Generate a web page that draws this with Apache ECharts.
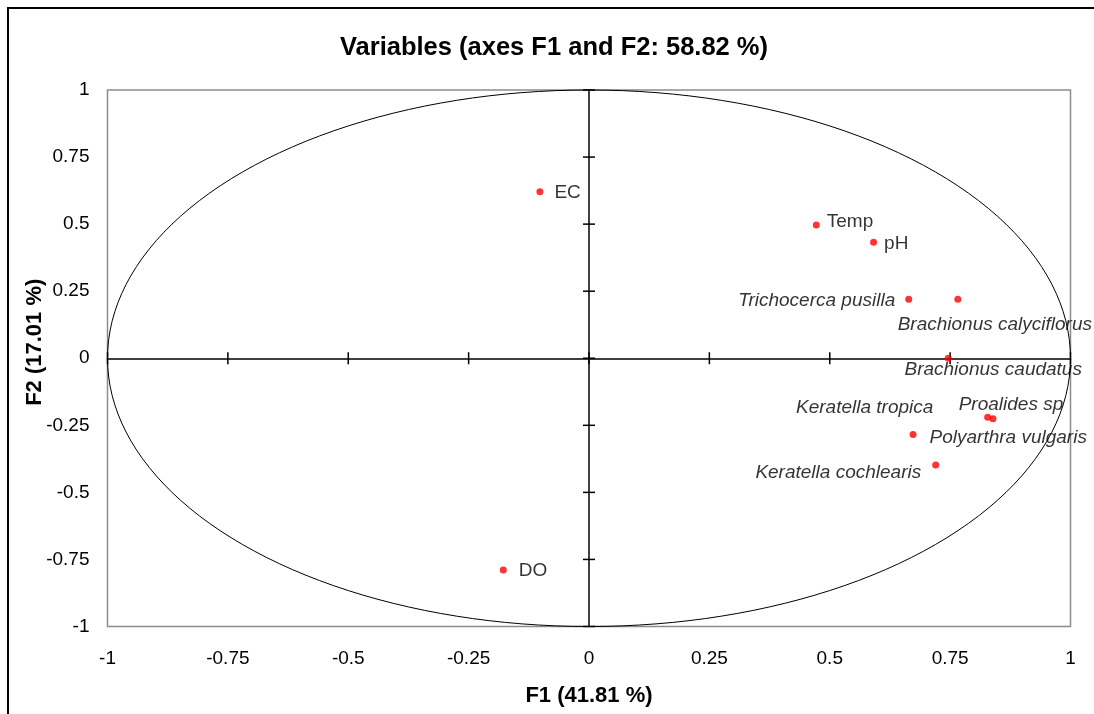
<!DOCTYPE html>
<html>
<head>
<meta charset="utf-8">
<script src="https://cdn.jsdelivr.net/npm/echarts@6/dist/echarts.min.js"></script>
<style>
  html, body { margin: 0; padding: 0; background: #fff; }
  #main { width: 1094px; height: 714px; }
</style>
</head>
<body>
<div id="main"></div>
<script type="text/javascript">
// variables / species names and their coordinates on F1 and F2
var names = ['EC', 'Temp', 'pH', 'Trichocerca pusilla', 'Brachionus calyciflorus',
  'Brachionus caudatus', 'Keratella tropica', 'Proalides sp', 'Polyarthra vulgaris',
  'Keratella cochlearis', 'DO'];
var f1 = [-0.102, 0.472, 0.591, 0.664, 0.766, 0.746, 0.828, 0.839, 0.673, 0.720, -0.178];
var f2 = [0.621, 0.497, 0.432, 0.220, 0.220, 0.000, -0.220, -0.226, -0.284, -0.398, -0.789];
var ticks = [-1, -0.75, -0.5, -0.25, 0, 0.25, 0.5, 0.75, 1];

var FONT = 'Liberation Sans, Arial, sans-serif';
var italicNames = ['Trichocerca pusilla', 'Brachionus calyciflorus', 'Brachionus caudatus',
  'Keratella tropica', 'Proalides sp', 'Polyarthra vulgaris', 'Keratella cochlearis'];

// where each label sits relative to its point
var labelPlace = {
  'EC': { position: 'right', distance: 11, offset: [0, 1] },
  'Temp': { position: 'right', distance: 7, offset: [0, -3] },
  'pH': { position: 'right', distance: 7, offset: [0, 1] },
  'Trichocerca pusilla': { position: 'left', distance: 10, offset: [0, 1] },
  'Brachionus calyciflorus': { position: 'inside', offset: [37, 25] },
  'Brachionus caudatus': { position: 'inside', offset: [45, 11] },
  'Keratella tropica': { position: 'inside', offset: [-123, -10] },
  'Proalides sp': { position: 'inside', offset: [18, -14] },
  'Polyarthra vulgaris': { position: 'right', distance: 13, offset: [0, 3] },
  'Keratella cochlearis': { position: 'left', distance: 11, offset: [0, 8] },
  'DO': { position: 'right', distance: 12, offset: [0, 1] }
};

var points = names.map(function (n, i) {
  var p = labelPlace[n];
  return {
    name: n,
    value: [f1[i], f2[i]],
    label: {
      show: true,
      formatter: n,
      position: p.position,
      distance: p.distance || 0,
      offset: p.offset || [0, 0],
      fontStyle: italicNames.indexOf(n) >= 0 ? 'italic' : 'normal'
    }
  };
});

var chart = echarts.init(document.getElementById('main'));

function labelAxis(pos) {
  return {
    type: 'value', min: ticks[0], max: ticks[ticks.length - 1], interval: 0.25,
    position: pos,
    axisLine: { show: false, onZero: false },
    axisTick: { show: false },
    splitLine: { show: false },
    nameMoveOverlap: false,
    axisLabel: { color: '#000', fontSize: 19, fontFamily: FONT, margin: pos === 'bottom' ? 23 : 18 }
  };
}
// line through zero (ticks drawn by the custom series below)
function zeroAxis(pos) {
  return {
    type: 'value', min: ticks[0], max: ticks[ticks.length - 1], interval: 0.25,
    position: pos,
    axisLine: { show: true, onZero: true, lineStyle: { color: '#000', width: 1.5 } },
    axisTick: { show: false },
    splitLine: { show: false },
    axisLabel: { show: false }
  };
}

var xLab = labelAxis('bottom');
xLab.name = 'F1 (41.81 %)';
xLab.nameLocation = 'middle';
xLab.nameGap = 58;
xLab.nameTextStyle = { color: '#000', fontSize: 22, fontWeight: 'bold', fontFamily: FONT };

var yLab = labelAxis('left');
yLab.name = 'F2 (17.01 %)';
yLab.nameLocation = 'middle';
yLab.nameGap = 62;
yLab.nameRotate = 90;
yLab.nameTextStyle = { color: '#000', fontSize: 22, fontWeight: 'bold', fontFamily: FONT, padding: [0, 0, 0, 32] };

chart.setOption({
  animation: false,
  backgroundColor: '#fff',
  title: {
    text: 'Variables (axes F1 and F2: 58.82 %)',
    left: 549,
    textAlign: 'center',
    top: 30,
    textStyle: { color: '#000', fontSize: 25.5, fontWeight: 'bold', fontFamily: FONT }
  },
  graphic: [{
    type: 'rect',
    shape: { x: 8, y: 8, width: 1100, height: 720 },
    style: { fill: null, stroke: '#000', lineWidth: 2 },
    silent: true
  }],
  grid: {
    left: 107.5, right: 23.5, top: 90, bottom: 87.5,
    outerBoundsMode: 'none',
    show: true, borderColor: '#8c8c8c', borderWidth: 1.5, backgroundColor: 'transparent'
  },
  xAxis: [xLab, zeroAxis('bottom')],
  yAxis: [yLab, zeroAxis('left')],
  series: [{
    // correlation circle of radius 1
    type: 'custom',
    xAxisIndex: 0,
    yAxisIndex: 0,
    silent: true,
    data: [[0, 0]],
    renderItem: function (params, api) {
      var pts = [];
      for (var a = 0; a <= 360; a += 2) {
        var r = a * Math.PI / 180;
        pts.push(api.coord([Math.cos(r), Math.sin(r)]));
      }
      return {
        type: 'polyline',
        shape: { points: pts },
        style: { fill: null, stroke: '#000', lineWidth: 1 }
      };
    }
  }, {
    // cross ticks on the two zero lines
    type: 'custom',
    xAxisIndex: 0,
    yAxisIndex: 0,
    silent: true,
    data: ticks.map(function (t) { return [t]; }),
    renderItem: function (params, api) {
      var t = api.value(0);
      var px = api.coord([t, 0]);
      var py = api.coord([0, t]);
      var st = { stroke: '#000', lineWidth: 1.5 };
      return {
        type: 'group',
        children: [
          { type: 'line', shape: { x1: px[0], y1: px[1] - 6, x2: px[0], y2: px[1] + 6 }, style: st },
          { type: 'line', shape: { x1: py[0] - 6, y1: py[1], x2: py[0] + 6, y2: py[1] }, style: st }
        ]
      };
    }
  }, {
    type: 'scatter',
    xAxisIndex: 0,
    yAxisIndex: 0,
    symbol: 'circle',
    symbolSize: 7,
    itemStyle: { color: '#ff0000' },
    label: { color: '#000', fontSize: 19, fontFamily: FONT },
    data: points
  }]
});
</script>
</body>
</html>
